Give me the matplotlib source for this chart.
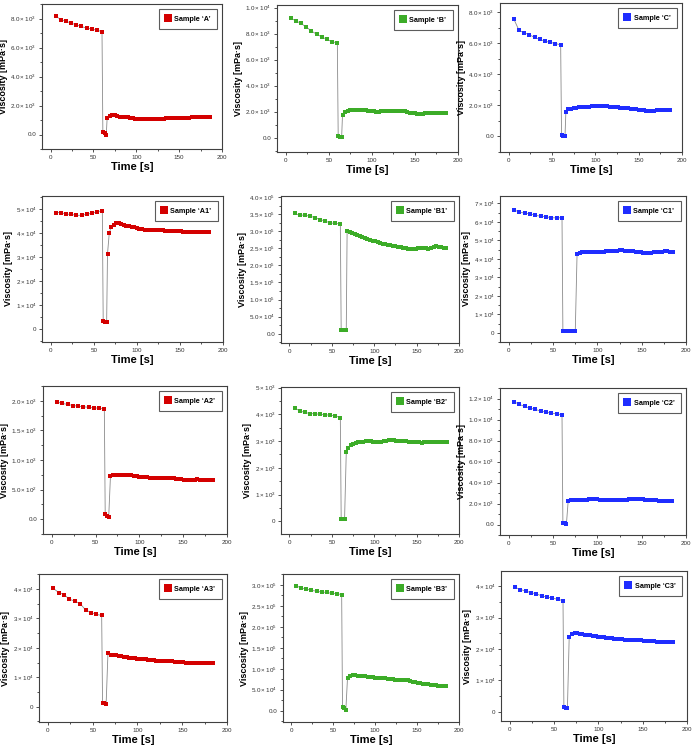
import numpy as np
import matplotlib.pyplot as plt
from matplotlib.ticker import FuncFormatter, MultipleLocator, AutoMinorLocator

plt.rcParams['font.family'] = ['Liberation Sans', 'DejaVu Sans']
plt.rcParams['mathtext.default'] = 'regular'

# time grid of the first (high shear-rate) step, shared by all samples
t_pre = [6, 12, 18, 24, 30, 36, 42, 48, 54, 60]

# values are given in units of the panel scale (see `scales`)
a_pre = [8.16, 7.93, 7.81, 7.68, 7.56, 7.45, 7.33, 7.28, 7.19, 7.10]
a_drop_t = [61, 63, 65]
a_drop = [0.14, 0.07, 0.0]
a_post = [1.15, 1.30, 1.35, 1.35, 1.28, 1.23, 1.22, 1.20, 1.18, 1.15, 1.12, 1.10, 1.10, 1.08,
          1.07, 1.06, 1.07, 1.08, 1.08, 1.09, 1.10, 1.10, 1.10, 1.11, 1.12, 1.12, 1.12, 1.13,
          1.13, 1.14, 1.15, 1.15, 1.17, 1.19, 1.20, 1.19, 1.20, 1.20, 1.21, 1.20, 1.22]

b_pre = [9.18, 8.98, 8.78, 8.50, 8.20, 7.95, 7.75, 7.55, 7.38, 7.28]
b_drop_t = [61, 63, 65]
b_drop = [0.12, 0.08, 0.03]
b_post = [1.78, 1.98, 2.05, 2.10, 2.13, 2.15, 2.15, 2.14, 2.12, 2.10, 2.06, 2.04, 2.02, 2.00,
          2.00, 2.02, 2.04, 2.06, 2.08, 2.09, 2.08, 2.06, 2.05, 2.04, 2.02, 1.98, 1.92, 1.88,
          1.86, 1.83, 1.82, 1.84, 1.86, 1.87, 1.88, 1.88, 1.87, 1.87, 1.88, 1.87, 1.87]

c_pre = [7.56, 6.83, 6.68, 6.55, 6.38, 6.25, 6.14, 6.06, 5.99, 5.90]
c_drop_t = [61, 63, 65]
c_drop = [0.09, 0.04, 0.02]
c_post = [1.57, 1.75, 1.80, 1.84, 1.86, 1.88, 1.90, 1.91, 1.92, 1.93, 1.94, 1.95, 1.96, 1.97,
          1.97, 1.96, 1.95, 1.93, 1.90, 1.88, 1.87, 1.86, 1.85, 1.84, 1.82, 1.80, 1.77, 1.74,
          1.71, 1.69, 1.68, 1.67, 1.67, 1.67, 1.67, 1.68, 1.68, 1.69, 1.70, 1.71, 1.72]

a1_pre = [4.86, 4.86, 4.79, 4.79, 4.74, 4.75, 4.79, 4.83, 4.90, 4.93]
a1_drop_t = [61, 63, 65, 66, 68]
a1_drop = [0.36, 0.30, 0.29, 3.14, 3.99]
a1_post = [4.25, 4.36, 4.42, 4.41, 4.38, 4.35, 4.32, 4.29, 4.26, 4.24, 4.22, 4.19, 4.17, 4.15,
           4.14, 4.14, 4.13, 4.13, 4.12, 4.12, 4.12, 4.11, 4.11, 4.10, 4.09, 4.09, 4.08, 4.08,
           4.07, 4.07, 4.07, 4.06, 4.06, 4.07, 4.07, 4.07, 4.06, 4.06, 4.07]

b1_pre = [3.52, 3.47, 3.47, 3.44, 3.40, 3.34, 3.30, 3.24, 3.23, 3.21]
b1_drop_t = [61, 63, 65, 67]
b1_drop = [0.10, 0.10, 0.10, 0.10]
b1_post = [3.01, 2.99, 2.95, 2.91, 2.88, 2.85, 2.82, 2.79, 2.77, 2.74, 2.72, 2.70, 2.68, 2.66,
           2.64, 2.62, 2.60, 2.59, 2.57, 2.56, 2.54, 2.53, 2.52, 2.50, 2.49, 2.48, 2.48, 2.49,
           2.50, 2.52, 2.51, 2.50, 2.49, 2.50, 2.55, 2.58, 2.54, 2.53, 2.52, 2.52]

c1_pre = [6.64, 6.53, 6.47, 6.44, 6.35, 6.31, 6.28, 6.22, 6.22, 6.22]
c1_drop_t = [61, 63, 65, 67, 69, 71, 73, 75]
c1_drop = [0.11, 0.10, 0.10, 0.10, 0.10, 0.10, 0.10, 0.11]
c1_post = [4.26, 4.32, 4.35, 4.37, 4.37, 4.38, 4.37, 4.35, 4.35, 4.37, 4.39, 4.40, 4.41, 4.43,
           4.44, 4.45, 4.46, 4.46, 4.45, 4.43, 4.41, 4.40, 4.38, 4.37, 4.35, 4.33, 4.32, 4.32,
           4.34, 4.36, 4.37, 4.38, 4.39, 4.40, 4.40, 4.39, 4.37]

a2_pre = [1.98, 1.955, 1.94, 1.92, 1.91, 1.90, 1.89, 1.88, 1.876, 1.86]
a2_drop_t = [61, 63, 65]
a2_drop = [0.08, 0.06, 0.04]
a2_post = [0.73, 0.74, 0.74, 0.74, 0.74, 0.74, 0.745, 0.745, 0.745, 0.735, 0.725, 0.72, 0.715,
           0.71, 0.705, 0.695, 0.69, 0.69, 0.69, 0.69, 0.69, 0.69, 0.69, 0.695, 0.69, 0.685,
           0.68, 0.675, 0.67, 0.66, 0.655, 0.665, 0.67, 0.675, 0.67, 0.67, 0.665, 0.665, 0.66,
           0.665]

b2_pre = [4.24, 4.13, 4.07, 4.03, 4.02, 4.00, 3.98, 3.97, 3.94, 3.88]
b2_drop_t = [61, 63, 65, 67]
b2_drop = [0.10, 0.10, 0.10, 2.58]
b2_post = [2.75, 2.84, 2.90, 2.93, 2.95, 2.97, 2.98, 2.99, 3.00, 2.99, 2.98, 2.97, 2.97, 2.98,
           2.99, 3.01, 3.03, 3.04, 3.03, 3.02, 3.01, 3.00, 3.00, 2.99, 2.98, 2.98, 2.97, 2.96,
           2.95, 2.94, 2.95, 2.96, 2.97, 2.98, 2.98, 2.98, 2.97, 2.96, 2.95, 2.95]

c2_pre = [11.69, 11.43, 11.24, 11.08, 10.96, 10.80, 10.70, 10.60, 10.54, 10.45]
c2_drop_t = [61, 63, 65]
c2_drop = [0.16, 0.13, 0.06]
c2_post = [2.26, 2.35, 2.36, 2.34, 2.35, 2.37, 2.38, 2.38, 2.40, 2.46, 2.47, 2.42, 2.38, 2.35,
           2.33, 2.32, 2.32, 2.31, 2.30, 2.30, 2.30, 2.31, 2.34, 2.40, 2.45, 2.44, 2.40, 2.47,
           2.44, 2.36, 2.32, 2.30, 2.30, 2.29, 2.28, 2.28, 2.26, 2.25, 2.25, 2.25]

a3_pre = [4.02, 3.88, 3.81, 3.65, 3.59, 3.50, 3.29, 3.20, 3.14, 3.10]
a3_drop_t = [61, 63, 65]
a3_drop = [0.12, 0.11, 0.10]
a3_post = [1.81, 1.77, 1.76, 1.75, 1.73, 1.72, 1.70, 1.68, 1.66, 1.65, 1.64, 1.63, 1.62, 1.61,
           1.61, 1.60, 1.59, 1.58, 1.57, 1.56, 1.56, 1.56, 1.55, 1.55, 1.54, 1.53, 1.52, 1.51,
           1.51, 1.50, 1.50, 1.50, 1.50, 1.50, 1.49, 1.49, 1.48, 1.47, 1.47, 1.47]

b3_pre = [2.98, 2.92, 2.90, 2.87, 2.85, 2.83, 2.82, 2.80, 2.79, 2.77]
b3_drop_t = [61, 63, 65]
b3_drop = [0.09, 0.06, 0.02]
b3_post = [0.79, 0.83, 0.84, 0.84, 0.83, 0.83, 0.82, 0.82, 0.81, 0.80, 0.80, 0.79, 0.79, 0.78,
           0.77, 0.77, 0.76, 0.76, 0.75, 0.74, 0.74, 0.73, 0.74, 0.74, 0.73, 0.71, 0.69, 0.68,
           0.67, 0.66, 0.64, 0.63, 0.63, 0.62, 0.62, 0.62, 0.60, 0.60, 0.59, 0.58]

c3_pre = [3.96, 3.89, 3.84, 3.79, 3.75, 3.69, 3.65, 3.62, 3.58, 3.54]
c3_drop_t = [61, 63, 65]
c3_drop = [0.15, 0.13, 0.12]
c3_post = [2.39, 2.49, 2.51, 2.50, 2.49, 2.47, 2.46, 2.44, 2.43, 2.41, 2.40, 2.39, 2.38, 2.37,
           2.36, 2.35, 2.34, 2.33, 2.33, 2.32, 2.31, 2.30, 2.30, 2.29, 2.28, 2.28, 2.27, 2.27,
           2.26, 2.26, 2.25, 2.24, 2.24, 2.23, 2.23, 2.23, 2.22, 2.22, 2.22, 2.22]

names = ['A', 'B', 'C', 'A1', 'B1', 'C1', 'A2', 'B2', 'C2', 'A3', 'B3', 'C3']
pre = [a_pre, b_pre, c_pre, a1_pre, b1_pre, c1_pre, a2_pre, b2_pre, c2_pre, a3_pre, b3_pre, c3_pre]
drop_t = [a_drop_t, b_drop_t, c_drop_t, a1_drop_t, b1_drop_t, c1_drop_t,
          a2_drop_t, b2_drop_t, c2_drop_t, a3_drop_t, b3_drop_t, c3_drop_t]
drop = [a_drop, b_drop, c_drop, a1_drop, b1_drop, c1_drop,
        a2_drop, b2_drop, c2_drop, a3_drop, b3_drop, c3_drop]
post = [a_post, b_post, c_post, a1_post, b1_post, c1_post,
        a2_post, b2_post, c2_post, a3_post, b3_post, c3_post]
post_start = [66, 66, 66, 70, 68, 77, 67, 69, 67, 67, 67, 67]   # s, then every 3 s
scales = [1e3, 1e3, 1e3, 1e4, 1e5, 1e4, 1e3, 1e3, 1e3, 1e4, 1e5, 1e4]

# axis setup (in units of the scale)
ylims = [(-1, 9), (-1.1, 10.2), (-1, 8.6), (-0.53, 5.55), (-0.27, 4.03), (-0.5, 7.4),
         (-0.25, 2.25), (-0.47, 5.02), (-1.0, 13.0), (-0.52, 4.51), (-0.27, 3.26), (-0.29, 4.48)]
ysteps = [2, 2, 2, 1, 0.5, 1, 0.5, 1, 2, 1, 0.5, 1]
ydec = [1, 1, 1, 0, 1, 0, 1, 0, 1, 0, 1, 0]

colors = {'A': '#d40000', 'B': '#3cac28', 'C': '#1f2dff'}

W, H = 697, 747
# axes boxes in pixels: left, right, top, bottom
boxes = [(42, 222, 4, 149), (277, 458, 5, 152), (500, 682, 3, 152),
         (42, 223, 196, 342), (281, 459, 196, 343), (500, 686, 196, 342),
         (43, 227, 386, 534), (281, 459, 387, 534), (500, 686, 388, 535),
         (39, 227, 574, 722), (283, 459, 574, 722), (501, 687, 571, 721)]


def sci_fmt(dec):
    def f(v, pos):
        if abs(v) < 1e-12:
            return '0.0' if dec else '0'
        e = int(np.floor(np.log10(abs(v)) + 1e-6))
        m = v / 10 ** e
        return rf'${m:.{dec}f}\times10^{{{e}}}$'
    return f


fig = plt.figure(figsize=(W / 100, H / 100), dpi=100)

for i, name in enumerate(names):
    l, r, t, b = boxes[i]
    ax = fig.add_axes([l / W, 1 - b / H, (r - l) / W, (b - t) / H])
    s = scales[i]
    tp = np.arange(len(post[i])) * 3 + post_start[i]
    x = np.concatenate([t_pre, drop_t[i], tp])
    y = np.concatenate([pre[i], drop[i], post[i]]) * s
    col = colors[name[0]]

    ax.plot(x, y, '-', color='#8a8a8a', lw=0.6, zorder=2)
    ax.plot(x, y, 's', color=col, ms=3.0, mew=0, zorder=3, label=f'Sample \u2018{name}\u2019')

    ax.set_xlim(-10, 200)
    ax.set_ylim(ylims[i][0] * s, ylims[i][1] * s)
    ax.xaxis.set_major_locator(MultipleLocator(50))
    ax.xaxis.set_minor_locator(MultipleLocator(25))
    ax.yaxis.set_major_locator(MultipleLocator(ysteps[i] * s))
    ax.yaxis.set_minor_locator(AutoMinorLocator(2))
    ax.yaxis.set_major_formatter(FuncFormatter(sci_fmt(ydec[i])))

    ax.tick_params(which='both', direction='out', width=0.6, labelsize=4.5, pad=1.5,
                   colors='#333333')
    ax.tick_params(which='major', length=2.5)
    ax.tick_params(which='minor', length=1.5)
    for sp in ax.spines.values():
        sp.set_linewidth(0.8)
        sp.set_color('#404040')

    ax.set_xlabel('Time [s]', fontsize=8, fontweight='bold', labelpad=1.5)
    ax.set_ylabel('Viscosity [mPa\u00b7s]', fontsize=6.5, fontweight='bold', labelpad=2)

    leg = ax.legend(loc='upper right', prop={'weight': 'bold', 'size': 5.2},
                    markerscale=1.9, handlelength=0.7, handletextpad=0.5, borderpad=0.9,
                    frameon=True, fancybox=False, borderaxespad=0.7)
    leg.get_frame().set_edgecolor('#333333')
    leg.get_frame().set_linewidth(0.8)

fig.savefig('out.png', dpi=100, facecolor='white')
